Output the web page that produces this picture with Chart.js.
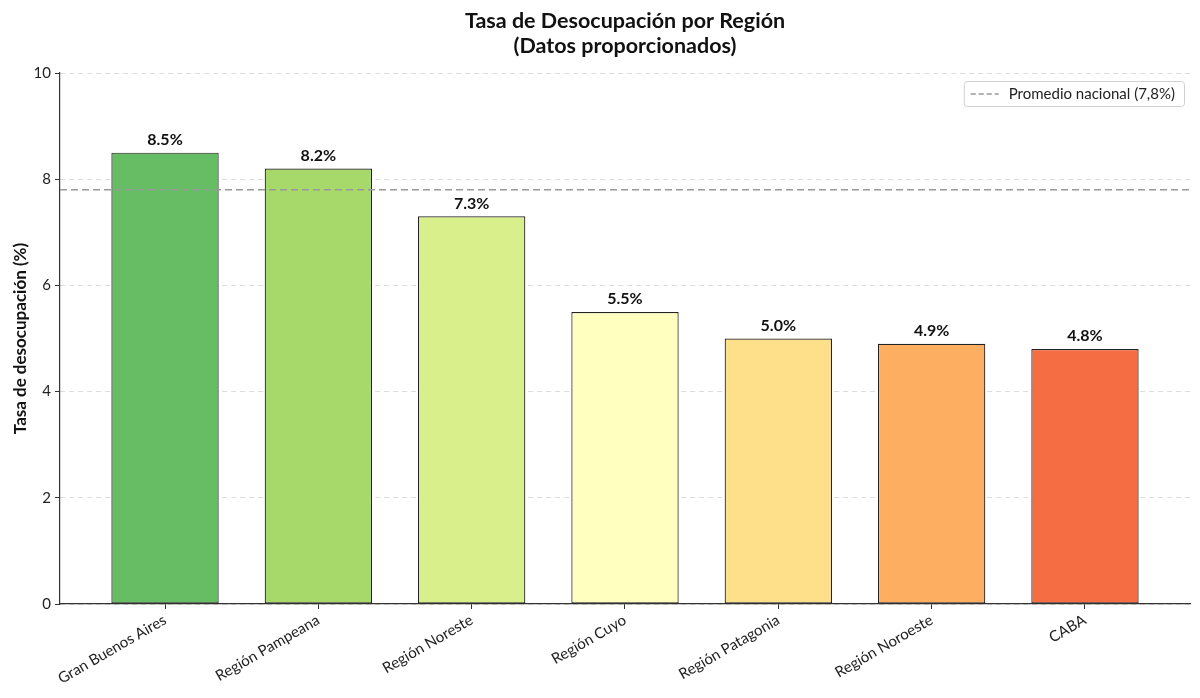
<!DOCTYPE html>
<html>
<head>
<meta charset="utf-8">
<script src="https://cdn.jsdelivr.net/npm/chart.js@4.4.0/dist/chart.umd.min.js"></script>
<style>
html,body{margin:0;padding:0;background:#fff;}
#wrap{width:1200px;height:698px;}
</style>
</head>
<body>
<div id="wrap"><canvas id="c" width="1200" height="698"></canvas></div>
<script>
const categories = ["Gran Buenos Aires","Región Pampeana","Región Noreste","Región Cuyo","Región Patagonia","Región Noroeste","CABA"];
const rates = [8.5, 8.2, 7.3, 5.5, 5.0, 4.9, 4.8];
const barColors = ["#66bd63","#a6d96a","#d9ef8b","#ffffbf","#fee08b","#fdae61","#f46d43"];
const avgValue = 7.8;
const avgLabel = "Promedio nacional (7,8%)";
const yTicks = [0, 2, 4, 6, 8, 10];
const titleLines = ["Tasa de Desocupación por Región", "(Datos proporcionados)"];
const yTitle = "Tasa de desocupación (%)";

const FONT = "Lato, 'Noto Sans', sans-serif";
const xMin = -0.685, xMax = categories.length - 1 + 0.685;

const titlePlugin = {
  id: 'titleP',
  afterDraw(chart) {
    const ctx = chart.ctx, a = chart.chartArea;
    ctx.save();
    ctx.fillStyle = '#111';
    ctx.font = "bold 21.5px " + FONT;
    ctx.textAlign = 'center';
    ctx.textBaseline = 'middle';
    const cx = (a.left + a.right) / 2;
    ctx.fillText(titleLines[0], cx, 21);
    ctx.fillText(titleLines[1], cx, 46);
    ctx.restore();
  }
};

const labelPlugin = {
  id: 'labelsP',
  afterDatasetsDraw(chart) {
    const ctx = chart.ctx;
    const meta = chart.getDatasetMeta(0);
    ctx.save();
    ctx.fillStyle = '#111';
    ctx.font = "bold 16px " + FONT;
    ctx.textAlign = 'center';
    ctx.textBaseline = 'bottom';
    meta.data.forEach((bar, i) => {
      ctx.fillText(rates[i].toFixed(1) + '%', bar.x, bar.y - 5);
    });
    ctx.restore();
  }
};

const legendPlugin = {
  id: 'legendP',
  afterDraw(chart) {
    const ctx = chart.ctx, a = chart.chartArea;
    ctx.save();
    ctx.font = "15px " + FONT;
    const tw = ctx.measureText(avgLabel).width;
    const w = tw + 54, h = 25;
    const x = a.right - 6 - w, y = a.top + 8;
    ctx.beginPath();
    if (ctx.roundRect) ctx.roundRect(x + 0.5, y + 0.5, w, h, 3); else ctx.rect(x + 0.5, y + 0.5, w, h);
    ctx.fillStyle = 'rgba(255,255,255,0.85)';
    ctx.fill();
    ctx.strokeStyle = '#d0d0d0';
    ctx.lineWidth = 1;
    ctx.stroke();
    ctx.beginPath();
    ctx.setLineDash([5, 3]);
    ctx.strokeStyle = '#999';
    ctx.lineWidth = 1.3;
    ctx.moveTo(x + 7, y + h / 2 + 0.5);
    ctx.lineTo(x + 35, y + h / 2 + 0.5);
    ctx.stroke();
    ctx.setLineDash([]);
    ctx.fillStyle = '#222';
    ctx.textAlign = 'left';
    ctx.textBaseline = 'middle';
    ctx.fillText(avgLabel, x + 45, y + h / 2 + 1);
    ctx.restore();
  }
};

new Chart(document.getElementById('c'), {
  type: 'bar',
  data: {
    datasets: [
      {
        type: 'bar',
        data: rates.map((v, i) => ({ x: i, y: v })),
        backgroundColor: barColors,
        borderColor: '#222',
        borderWidth: 1.2,
        borderSkipped: false,
        categoryPercentage: 1,
        barPercentage: 0.7,
        order: 2
      },
      {
        type: 'line',
        data: [{ x: xMin, y: avgValue }, { x: xMax, y: avgValue }],
        borderColor: '#999999',
        borderWidth: 1.4,
        borderDash: [7, 4],
        pointRadius: 0,
        fill: false,
        order: 1
      }
    ]
  },
  options: {
    responsive: false,
    animation: false,
    events: [],
    layout: { padding: { top: 73, right: 10, left: 0, bottom: 0 } },
    plugins: { legend: { display: false }, tooltip: { enabled: false }, title: { display: false } },
    scales: {
      x: {
        type: 'linear',
        offset: false,
        min: xMin,
        max: xMax,
        afterBuildTicks(scale) { scale.ticks = categories.map((_, i) => ({ value: i })); },
        afterFit(scale) { scale.height = 94; },
        ticks: {
          autoSkip: false,
          minRotation: 30,
          maxRotation: 30,
          padding: 2,
          color: '#222',
          font: { family: FONT, size: 15 },
          callback: (v) => categories[v] ?? ''
        },
        grid: { offset: false, drawOnChartArea: false, drawTicks: true, tickLength: 5, tickColor: '#333', tickWidth: 1 },
        border: { display: true, color: '#333', width: 1.2 }
      },
      y: {
        min: 0,
        max: 10,
        afterBuildTicks(scale) { scale.ticks = yTicks.map(v => ({ value: v })); },
        afterFit(scale) { scale.width = 60; },
        ticks: {
          padding: 4,
          color: '#222',
          font: { family: FONT, size: 15 }
        },
        title: {
          display: true,
          text: yTitle,
          color: '#111',
          font: { family: FONT, size: 17, weight: 'bold' },
          padding: { top: 10, bottom: 6 }
        },
        grid: { color: '#dcdcdc', lineWidth: 1, tickLength: 5, tickColor: '#333', tickWidth: 1, tickBorderDash: [] },
        border: { display: true, color: '#333', width: 1.2, dash: [5, 4] }
      }
    }
  },
  plugins: [titlePlugin, labelPlugin, legendPlugin]
});
</script>
</body>
</html>
